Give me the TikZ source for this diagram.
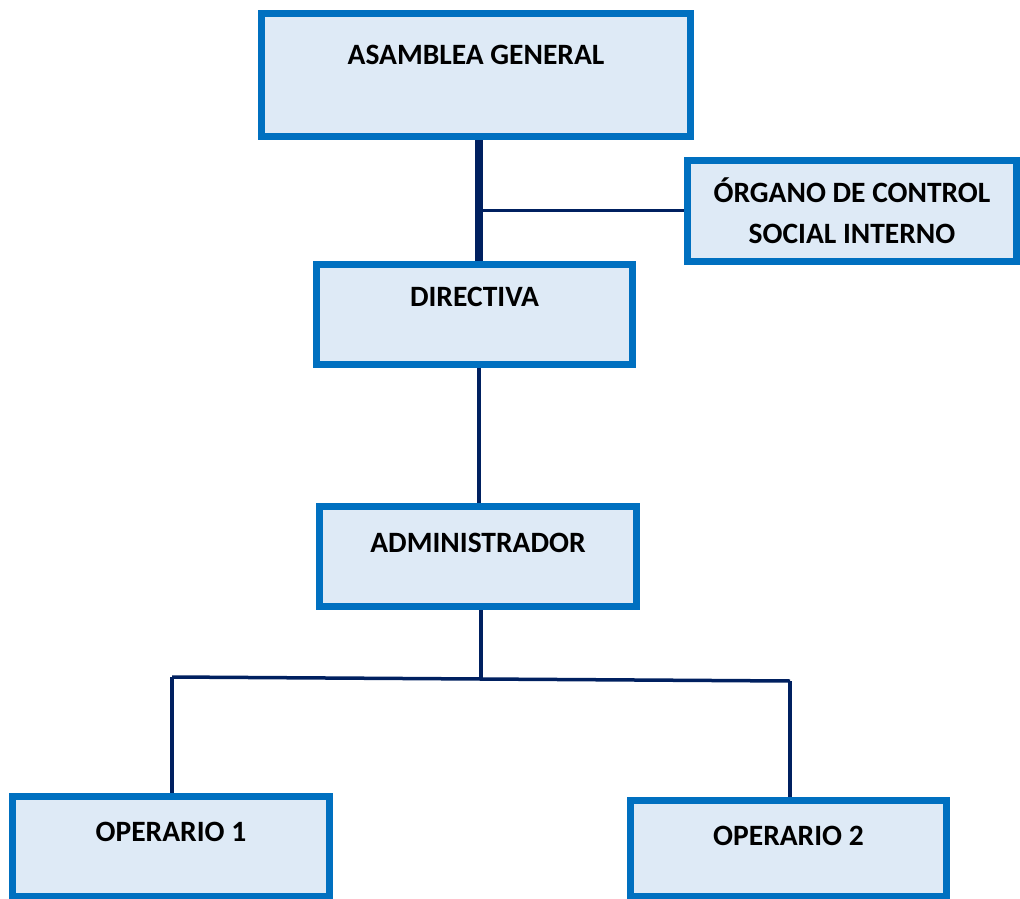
\documentclass[tikz,border=0pt]{standalone}
\usepackage{fontspec}
\setmainfont{Carlito}
\definecolor{boxline}{HTML}{0070C0}
\definecolor{boxfill}{HTML}{DEEAF6}
\definecolor{navy}{HTML}{002060}
\tikzset{
  unit/.style={draw=boxline, fill=boxfill, line width=7pt, inner sep=0pt,
    font=\fontsize{29.5}{41}\selectfont\bfseries, align=center},
  link/.style={draw=navy, line width=3.5pt},
  trunk/.style={draw=navy, line width=8pt}
}
\begin{document}
\begin{tikzpicture}[x=1pt,y=-1pt]
\useasboundingbox (0,0) rectangle (1020,899);

% boxes (text height/depth place the baseline inside each box)
\node[unit, minimum width=429pt, text height=50.5pt, text depth=72.5pt]
  (asamblea) at (476,75) {ASAMBLEA GENERAL};
\node[unit, minimum width=329pt, minimum height=101pt]
  (organo) at (852,211) {ÓRGANO DE CONTROL\\SOCIAL INTERNO};
\node[unit, minimum width=316pt, text height=42.5pt, text depth=57.5pt]
  (directiva) at (474.5,314) {DIRECTIVA};
\node[unit, minimum width=317pt, text height=45.5pt, text depth=54.5pt]
  (admin) at (478,556.5) {ADMINISTRADOR};
\node[unit, minimum width=317pt, text height=44.5pt, text depth=55pt]
  (op1) at (171,846.25) {OPERARIO 1};
\node[unit, minimum width=316pt, text height=44.5pt, text depth=51pt]
  (op2) at (788.5,848.25) {OPERARIO 2};

% connectors
\coordinate (tee) at (479,210);
\coordinate (splitL) at (172,677);
\coordinate (splitM) at (481,679);
\coordinate (splitR) at (790,681);

\draw[trunk] (479,0 |- asamblea.south) -- (479,0 |- directiva.north);
\draw[link, line width=3pt] (tee) -- (organo.west |- tee);
\draw[link, line width=4.5pt] (479,0 |- directiva.south) -- (479,0 |- admin.north);
\draw[link] (481,0 |- admin.south) -- (splitM);
\draw[link] (splitL) -- (splitR);
\draw[link] (splitL) -- (splitL |- op1.north);
\draw[link] (splitR) -- (splitR |- op2.north);
\end{tikzpicture}
\end{document}
